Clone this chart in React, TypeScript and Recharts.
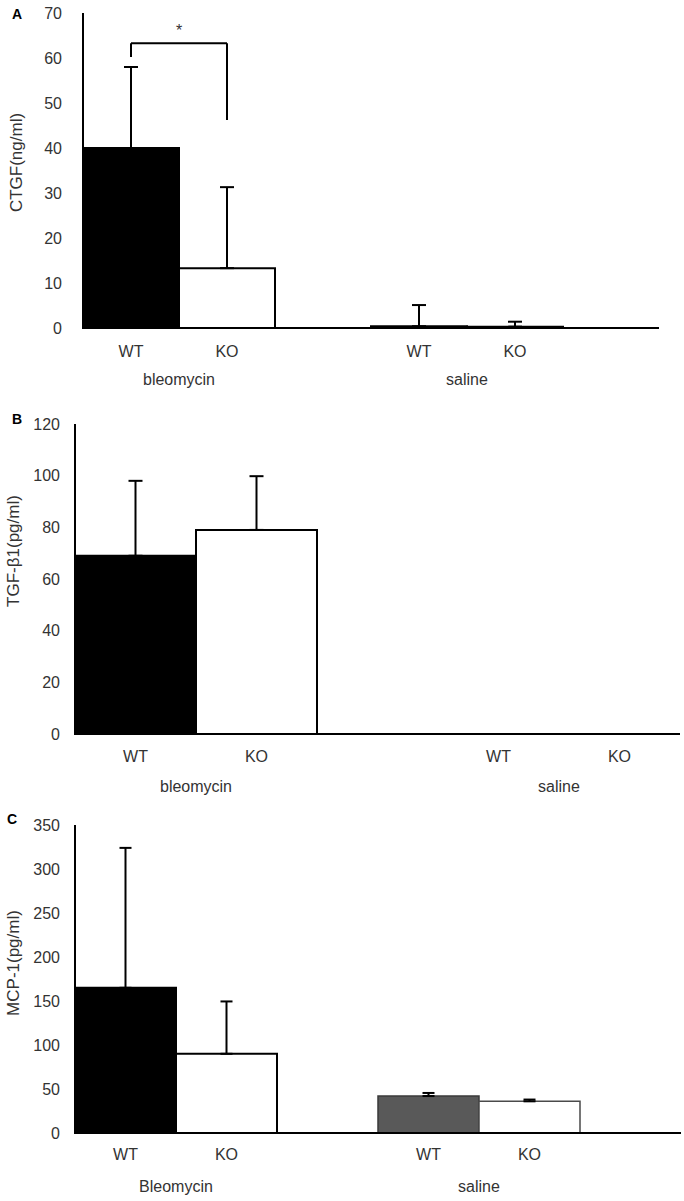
import React from 'react';
import { BarChart, Bar, XAxis, YAxis, Cell, ErrorBar, ReferenceLine } from 'recharts';

// ---------- data ----------
const slotsA = ['bleoWT', 'bleoKO', 'bleoGap', 'salWT', 'salKO', 'salGap'];
const slotsB = ['bleoWT', 'bleoKO', 'gap', 'salWT', 'salKO'];
const slotsC = ['bleoWT', 'bleoKO', 'bleoGap', 'salWT', 'salKO', 'salGap'];

const tickLabelsA = ['WT', 'KO', '', 'WT', 'KO', ''];
const tickLabelsB = ['WT', 'KO', '', 'WT', 'KO'];
const tickLabelsC = ['WT', 'KO', '', 'WT', 'KO', ''];

const groupLabelsA = ['bleomycin', 'saline'];
const groupLabelsB = ['bleomycin', 'saline'];
const groupLabelsC = ['Bleomycin', 'saline'];
// group label sits under the left edge of these slots (between WT and KO)
const groupSlots = [1, 4];

const ctgfMean = [40, 13.3, null, 0.4, 0.3, null];
const ctgfSD = [18, 18, null, 4.7, 1.1, null];
const tgfMean = [69, 79, null, 0, 0];
const tgfSD = [29, 20.8, null, null, null];
const mcpMean = [165, 90, null, 42, 36, null];
const mcpSD = [159, 59.5, null, 3.5, 2, null];

const ticksA = [0, 10, 20, 30, 40, 50, 60, 70];
const ticksB = [0, 20, 40, 60, 80, 100, 120];
const ticksC = [0, 50, 100, 150, 200, 250, 300, 350];

// significance bracket in panel A: [bracket top, left leg end, right leg end]
const bracketA = [63.3, 60.2, 46.2];
const bracketSlots = ['bleoWT', 'bleoKO'];

// ---------- styles ----------
const fillsA = ['#000000', '#ffffff', '#ffffff', '#ffffff', '#ffffff', '#ffffff'];
const strokesA = ['#000000', '#000000', '#000000', '#000000', '#000000', '#000000'];
const fillsB = ['#000000', '#ffffff', '#ffffff', '#ffffff', '#ffffff'];
const strokesB = ['#000000', '#000000', '#000000', '#000000', '#000000'];
const fillsC = ['#000000', '#ffffff', '#ffffff', '#595959', '#ffffff', '#ffffff'];
const strokesC = ['#000000', '#000000', '#000000', '#3a3a3a', '#4a4a4a', '#000000'];

const FONT = '"Liberation Sans", Arial, sans-serif';
const TEXT = '#333333';

function build(slots: string[], means: (number | null)[], sds: (number | null)[]) {
  return slots.map((s, i) => ({
    slot: s,
    mean: means[i],
    err: sds[i] == null ? null : [0, sds[i] as number],
  }));
}

function yTitle(text: string, cx: number, shift: number) {
  return (props: any) => {
    const vb = props.viewBox || { y: 0, height: 0 };
    const x = cx;
    const y = vb.y + vb.height / 2 + shift;
    return (
      <text
        x={x}
        y={y}
        transform={`rotate(-90 ${x} ${y})`}
        textAnchor="middle"
        dominantBaseline="central"
        fontSize={17}
        fontFamily={FONT}
        fill={TEXT}
      >
        {text}
      </text>
    );
  };
}

type PanelProps = {
  top: number;
  height: number;
  margin: { top: number; right: number; left: number; bottom: number };
  yWidth: number;
  yTickMargin: number;
  xTickMargin: number;
  xHeight: number;
  groupGap: number;
  slots: string[];
  means: (number | null)[];
  sds: (number | null)[];
  tickLabels: string[];
  groupLabels: string[];
  ticks: number[];
  fills: string[];
  strokes: string[];
  strokeWidths: number[];
  title: string;
  titleX: number;
  titleShift: number;
  errWidth: number;
  children?: React.ReactNode;
};

function Panel(p: PanelProps) {
  const data = build(p.slots, p.means, p.sds);
  const n = p.slots.length;
  const bw = (684 - p.margin.left - p.margin.right - p.yWidth) / n;

  const CatTick = (props: any) => {
    const { x, y, index } = props;
    const gi = groupSlots.indexOf(index);
    return (
      <g>
        <text x={x} y={y} dy="0.71em" textAnchor="middle" fontSize={16} fontFamily={FONT} fill={TEXT}>
          {p.tickLabels[index]}
        </text>
        {gi >= 0 ? (
          <text
            x={x - bw / 2}
            y={y + p.groupGap}
            dy="0.71em"
            textAnchor="middle"
            fontSize={16}
            fontFamily={FONT}
            fill={TEXT}
          >
            {p.groupLabels[gi]}
          </text>
        ) : null}
      </g>
    );
  };

  return (
    <div style={{ position: 'absolute', left: 0, top: p.top }}>
      <BarChart
        width={684}
        height={p.height}
        data={data}
        margin={p.margin}
        barCategoryGap={0}
        barGap={0}
      >
        <XAxis
          xAxisId="cat"
          dataKey="slot"
          type="category"
          interval={0}
          height={p.xHeight}
          tickSize={0}
          tickLine={false}
          tickMargin={p.xTickMargin}
          axisLine={{ stroke: '#000', strokeWidth: 2 }}
          tick={<CatTick />}
        />
        <YAxis
          type="number"
          domain={[p.ticks[0], p.ticks[p.ticks.length - 1]]}
          ticks={p.ticks}
          interval={0}
          width={p.yWidth}
          tickSize={0}
          tickLine={false}
          tickMargin={p.yTickMargin}
          axisLine={{ stroke: '#000', strokeWidth: 2 }}
          tick={{ fontSize: 16, fontFamily: FONT, fill: TEXT }}
          label={{ content: yTitle(p.title, p.titleX, p.titleShift) } as any}
        />
        <Bar dataKey="mean" xAxisId="cat" isAnimationActive={false}>
          {data.map((d, i) => (
            <Cell key={i} fill={p.fills[i]} stroke={p.strokes[i]} strokeWidth={p.strokeWidths[i]} />
          ))}
          <ErrorBar dataKey="err" direction="y" width={p.errWidth} stroke="#000" strokeWidth={2} isAnimationActive={false} />
        </Bar>
        {p.children}
      </BarChart>
    </div>
  );
}

export default function App() {
  const bracketLines = [
    <ReferenceLine
      key="h"
      xAxisId="cat"
      ifOverflow="visible"
      segment={[{ x: bracketSlots[0], y: bracketA[0] }, { x: bracketSlots[1], y: bracketA[0] }]}
      stroke="#000"
      strokeWidth={2}
      label={{ value: '*', position: 'top', offset: 7, fontSize: 16, fontFamily: FONT, fill: TEXT }}
    />,
    <ReferenceLine
      key="l"
      xAxisId="cat"
      ifOverflow="visible"
      segment={[{ x: bracketSlots[0], y: bracketA[1] }, { x: bracketSlots[0], y: bracketA[0] }]}
      stroke="#000"
      strokeWidth={2}
    />,
    <ReferenceLine
      key="r"
      xAxisId="cat"
      ifOverflow="visible"
      segment={[{ x: bracketSlots[1], y: bracketA[2] }, { x: bracketSlots[1], y: bracketA[0] }]}
      stroke="#000"
      strokeWidth={2}
    />,
  ];

  return (
    <div style={{ position: 'absolute', left: 0, top: 0, width: 684, height: 1201, background: '#fff' }}>
      <Panel
        top={0}
        height={395}
        margin={{ top: 13, right: 25, left: 0, bottom: 0 }}
        yWidth={83}
        yTickMargin={21}
        xTickMargin={18}
        xHeight={67}
        groupGap={28}
        slots={slotsA}
        means={ctgfMean}
        sds={ctgfSD}
        tickLabels={tickLabelsA}
        groupLabels={groupLabelsA}
        ticks={ticksA}
        fills={fillsA}
        strokes={strokesA}
        strokeWidths={[2, 2, 2, 2, 2, 2]}
        title="CTGF(ng/ml)"
        titleX={16}
        titleShift={-8}
        errWidth={7}
      >
        {bracketLines}
      </Panel>
      <Panel
        top={395}
        height={400}
        margin={{ top: 29, right: 4, left: 0, bottom: 0 }}
        yWidth={75}
        yTickMargin={15}
        xTickMargin={17}
        xHeight={61}
        groupGap={30}
        slots={slotsB}
        means={tgfMean}
        sds={tgfSD}
        tickLabels={tickLabelsB}
        groupLabels={groupLabelsB}
        ticks={ticksB}
        fills={fillsB}
        strokes={strokesB}
        strokeWidths={[2, 2, 2, 2, 2]}
        title="TGF-β1(pg/ml)"
        titleX={13}
        titleShift={-28}
        errWidth={7}
      />
      <Panel
        top={795}
        height={406}
        margin={{ top: 30, right: 3, left: 0, bottom: 0 }}
        yWidth={75}
        yTickMargin={15}
        xTickMargin={16}
        xHeight={68}
        groupGap={32}
        slots={slotsC}
        means={mcpMean}
        sds={mcpSD}
        tickLabels={tickLabelsC}
        groupLabels={groupLabelsC}
        ticks={ticksC}
        fills={fillsC}
        strokes={strokesC}
        strokeWidths={[2, 2, 2, 1.5, 1.5, 2]}
        title="MCP-1(pg/ml)"
        titleX={13}
        titleShift={-16}
        errWidth={6}
      />
      <svg
        width={684}
        height={1201}
        style={{ position: 'absolute', left: 0, top: 0, pointerEvents: 'none' }}
      >
        <text x={12} y={14} dominantBaseline="central" fontSize={14} fontWeight="bold" fontFamily={FONT} fill="#000">A</text>
        <text x={12} y={419} dominantBaseline="central" fontSize={14} fontWeight="bold" fontFamily={FONT} fill="#000">B</text>
        <text x={7} y={819} dominantBaseline="central" fontSize={14} fontWeight="bold" fontFamily={FONT} fill="#000">C</text>
      </svg>
    </div>
  );
}
